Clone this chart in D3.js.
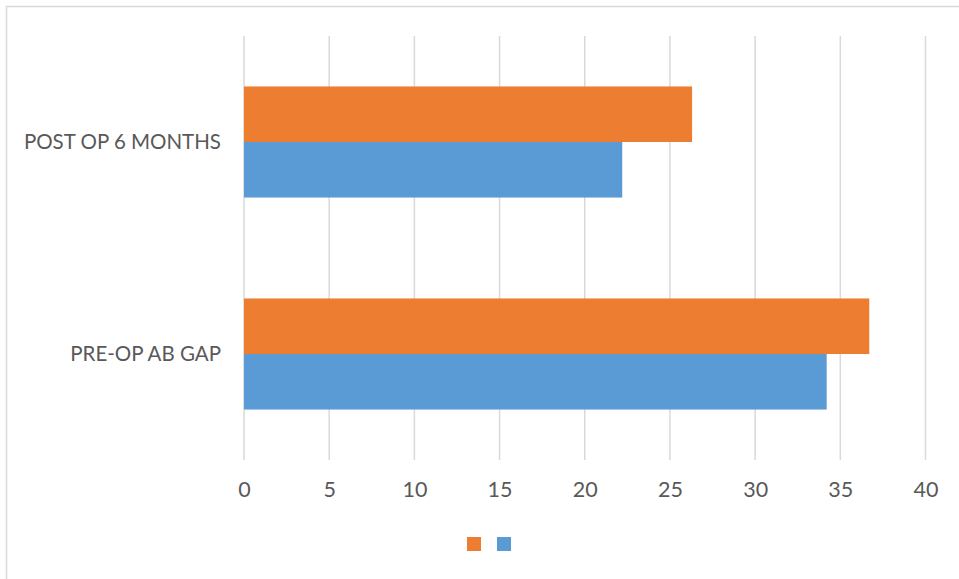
<!DOCTYPE html>
<html>
<head>
<meta charset="utf-8">
<script src="https://cdn.jsdelivr.net/npm/d3@7"></script>
<style>
  html, body { margin: 0; padding: 0; background: #ffffff; }
  svg { display: block; }
</style>
</head>
<body>
<svg id="chart" width="959" height="579"></svg>
<script>
// Data
const categories = ["POST OP 6 MONTHS", "PRE-OP AB GAP"];
const seriesNames = ["Series 2", "Series 1"]; // top bar in each group first
const series1 = [22.2, 34.2]; // blue
const series2 = [26.3, 36.7]; // orange
const xTicks = [0, 5, 10, 15, 20, 25, 30, 35, 40];

const colors = { "Series 1": "#5B9BD5", "Series 2": "#ED7D31" };
const valuesBySeries = { "Series 1": series1, "Series 2": series2 };

const svg = d3.select("#chart");
const W = 959, H = 579;
const plot = { left: 244, right: 925.5, top: 36, bottom: 460 };
const font = "Lato, 'Open Sans', sans-serif";

// Chart area border (left and top visible)
svg.append("rect")
  .attr("x", 6.5).attr("y", 6.5)
  .attr("width", W + 20).attr("height", H + 20)
  .attr("fill", "none").attr("stroke", "#d9d9d9").attr("stroke-width", 1.5);

const x = d3.scaleLinear().domain([0, 40]).range([plot.left, plot.right]);
const y = d3.scaleBand().domain(categories).range([plot.top, plot.bottom])
  .paddingInner(0.476).paddingOuter(0.238);
const ySub = d3.scaleBand().domain(seriesNames).range([0, y.bandwidth()]).padding(0);

// Gridlines
svg.append("g").selectAll("line").data(xTicks).join("line")
  .attr("x1", d => x(d)).attr("x2", d => x(d))
  .attr("y1", plot.top).attr("y2", plot.bottom)
  .attr("stroke", "#d9d9d9").attr("stroke-width", 1.5);

// Bars
const rows = [];
categories.forEach((c, i) => {
  seriesNames.forEach(s => rows.push({ cat: c, series: s, value: valuesBySeries[s][i] }));
});
svg.append("g").selectAll("rect").data(rows).join("rect")
  .attr("x", x(0))
  .attr("y", d => y(d.cat) + ySub(d.series))
  .attr("width", d => x(d.value) - x(0))
  .attr("height", ySub.bandwidth())
  .attr("fill", d => colors[d.series]);

// X axis labels
const xAxis = d3.axisBottom(x).tickValues(xTicks).tickSize(0).tickPadding(22);
const gx = svg.append("g").attr("transform", `translate(0,${plot.bottom})`).call(xAxis);
gx.select(".domain").remove();
gx.selectAll("text").attr("fill", "#595959").style("font-family", font).style("font-size", "21.5px");

// Y axis labels
const yAxis = d3.axisLeft(y).tickSize(0).tickPadding(23);
const gy = svg.append("g").attr("transform", `translate(${plot.left},0)`).call(yAxis);
gy.select(".domain").remove();
gy.selectAll("text").attr("fill", "#595959").style("font-family", font).style("font-size", "20.5px");

// Legend (no labels)
const legendItems = ["Series 2", "Series 1"];
const legendX = d3.scalePoint().domain(legendItems).range([467, 497]);
svg.append("g").selectAll("rect").data(legendItems).join("rect")
  .attr("x", d => legendX(d)).attr("y", 537)
  .attr("width", 14).attr("height", 14)
  .attr("fill", d => colors[d]);
</script>
</body>
</html>
